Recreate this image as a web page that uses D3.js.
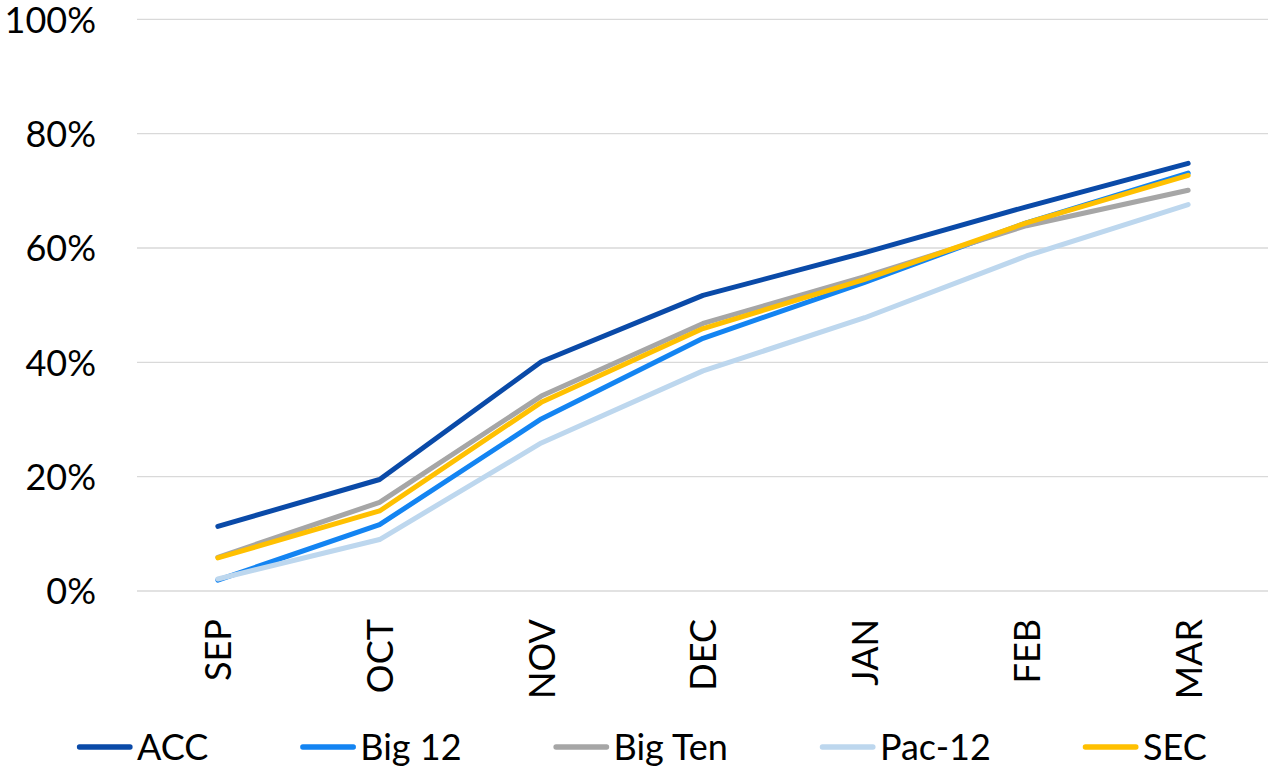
<!DOCTYPE html>
<html>
<head>
<meta charset="utf-8">
<script src="https://cdn.jsdelivr.net/npm/d3@7"></script>
<style>
  html, body { margin: 0; padding: 0; background: #fff; }
  svg { display: block; }
  text { font-family: Lato, "Open Sans", sans-serif; fill: #000; }
</style>
</head>
<body>
<svg id="chart" width="1268" height="769"></svg>
<script>
const months = ["SEP", "OCT", "NOV", "DEC", "JAN", "FEB", "MAR"];
const seriesNames = ["ACC", "Big 12", "Big Ten", "Pac-12", "SEC"];
const accValues    = [0.113, 0.195, 0.401, 0.517, 0.592, 0.672, 0.748];
const big12Values  = [0.019, 0.116, 0.301, 0.442, 0.540, 0.644, 0.731];
const bigTenValues = [0.059, 0.155, 0.341, 0.468, 0.550, 0.639, 0.701];
const pac12Values  = [0.021, 0.090, 0.259, 0.385, 0.478, 0.586, 0.676];
const secValues    = [0.058, 0.140, 0.330, 0.459, 0.545, 0.644, 0.727];
const yTicks = [0, 0.2, 0.4, 0.6, 0.8, 1.0];
const colors = ["#0a4aa8", "#1384f2", "#a6a6a6", "#bdd7ee", "#ffc000"];

const series = [accValues, big12Values, bigTenValues, pac12Values, secValues]
  .map((vals, i) => ({ name: seriesNames[i], color: colors[i], values: vals }));

const svg = d3.select("#chart");
const plotLeft = 137, plotRight = 1269, plotTop = 19.3, plotBottom = 591;

const x = d3.scalePoint().domain(months).range([plotLeft, plotRight]).padding(0.5);
const y = d3.scaleLinear().domain([0, 1]).range([plotBottom, plotTop]);

// gridlines
svg.append("g").selectAll("line").data(yTicks).join("line")
  .attr("x1", plotLeft).attr("x2", plotRight)
  .attr("y1", d => y(d)).attr("y2", d => y(d))
  .attr("stroke", "#d9d9d9").attr("stroke-width", 1.3);

// y axis labels
const yAxis = d3.axisLeft(y).tickValues(yTicks).tickFormat(d3.format(".0%")).tickSize(0).tickPadding(0);
const yg = svg.append("g").attr("transform", "translate(96,0)").call(yAxis);
yg.select(".domain").remove();
yg.selectAll("text").attr("font-size", 36).attr("font-family", "Lato").attr("fill", "#000")
  .attr("dy", "0.36em");

// x axis labels
const xAxis = d3.axisBottom(x).tickSize(0).tickPadding(0);
const xg = svg.append("g").attr("transform", `translate(0,${plotBottom})`).call(xAxis);
xg.select(".domain").remove();
xg.selectAll("text")
  .attr("font-size", 36).attr("font-family", "Lato").attr("fill", "#000")
  .attr("text-anchor", "end")
  .attr("dy", "0.36em")
  .attr("transform", "translate(0,28) rotate(-90)")
  .attr("x", 0).attr("y", 0);

// lines
const line = d3.line().x((d, i) => x(months[i])).y(d => y(d));
svg.append("g").selectAll("path").data(series).join("path")
  .attr("d", d => line(d.values))
  .attr("fill", "none")
  .attr("stroke", d => d.color)
  .attr("stroke-width", 5)
  .attr("stroke-linecap", "round")
  .attr("stroke-linejoin", "round");

// legend
const legend = svg.append("g");
let lx = 77;
const ly = 747;
series.forEach(s => {
  legend.append("line")
    .attr("x1", lx + 2.5).attr("x2", lx + 53)
    .attr("y1", ly).attr("y2", ly)
    .attr("stroke", s.color).attr("stroke-width", 5.3).attr("stroke-linecap", "round");
  const t = legend.append("text")
    .attr("x", lx + 60).attr("y", ly)
    .attr("dy", "0.36em")
    .attr("font-size", 36)
    .text(s.name);
  lx = lx + 60 + t.node().getComputedTextLength() + 92;
});
</script>
</body>
</html>
